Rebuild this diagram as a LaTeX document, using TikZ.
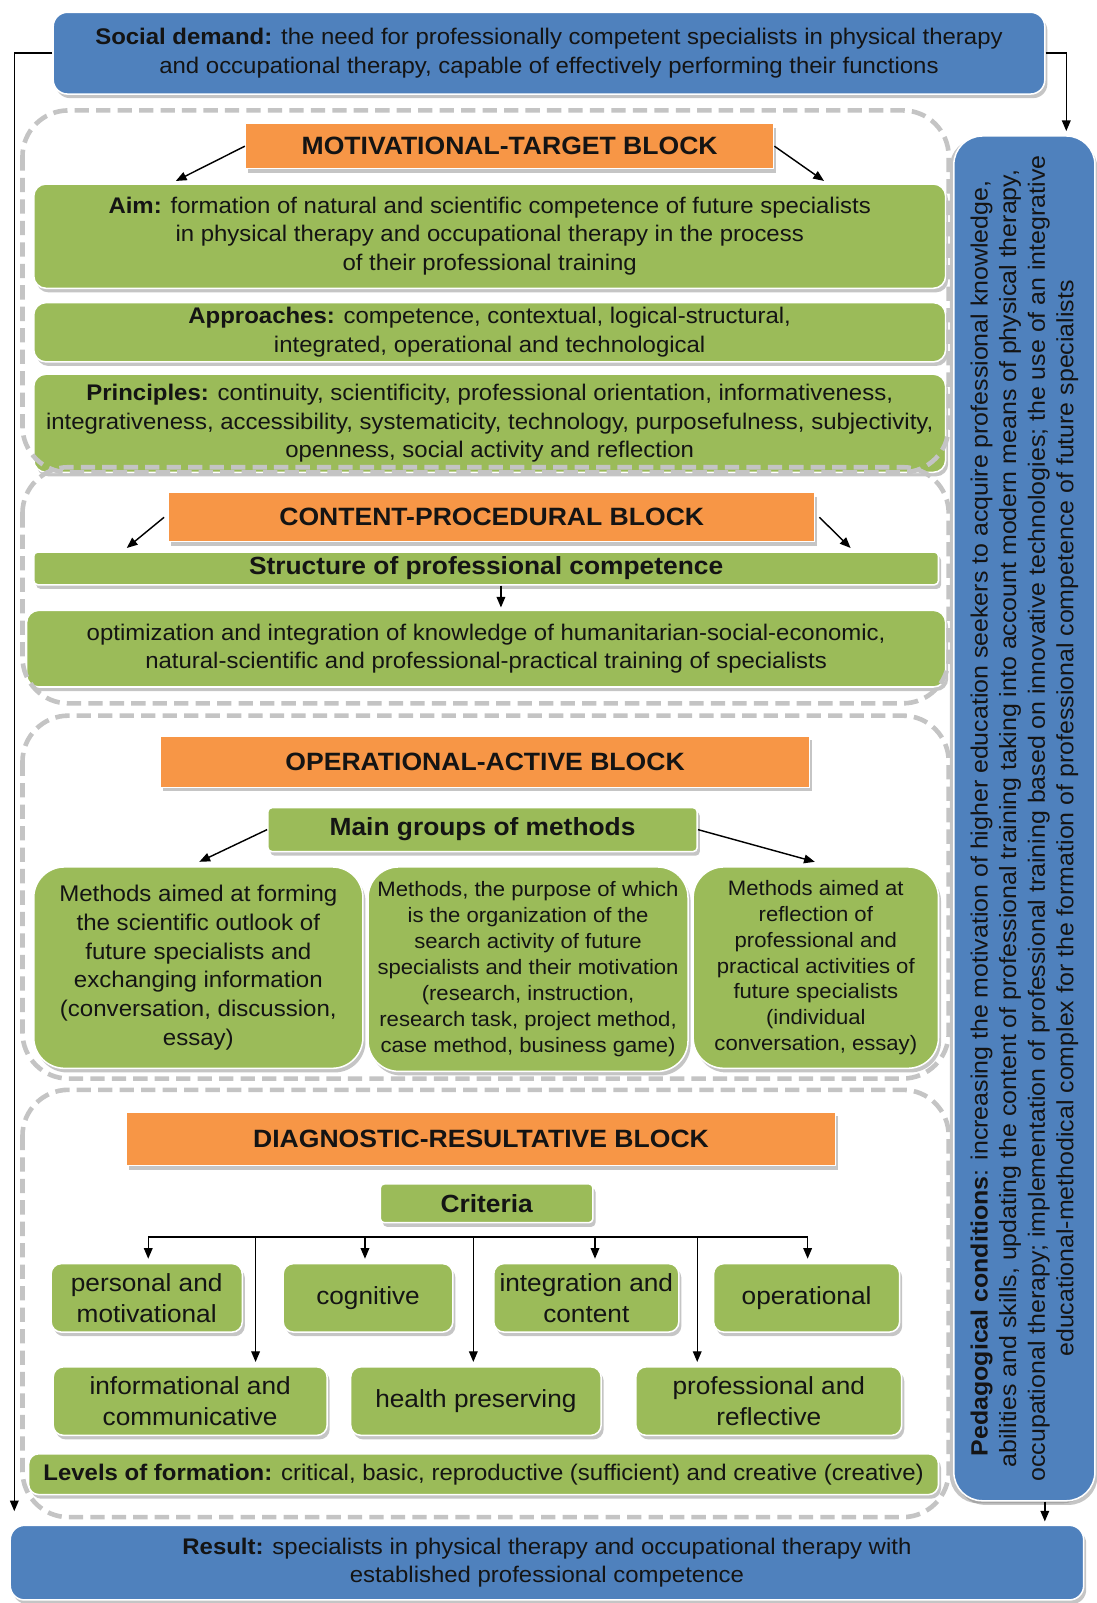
\documentclass[tikz,border=0pt]{standalone}
\usepackage{fontspec}
\setmainfont{Liberation Sans}[FakeStretch=1.06]
\usetikzlibrary{arrows.meta,shadows}
\definecolor{sblue}{HTML}{4F81BD}
\definecolor{sgreen}{HTML}{9BBB59}
\definecolor{sorange}{HTML}{F79646}
\definecolor{sgray}{HTML}{C4C4C4}
\newcommand\fsz[2]{\fontsize{#1}{#2}\selectfont}

\begin{document}
\begin{tikzpicture}[x=1pt,y=-1pt,
  txt/.style={align=center, inner sep=0pt, text=black!92},
  shade box/.style={drop shadow={shadow xshift=2.5pt,shadow yshift=-4pt,fill=black!50,opacity=0.45}},
  bluebox/.style={txt, fill=sblue, draw=white, line width=1.5pt, rounded corners=14pt, shade box, font=\fsz{22.1}{28}},
  greenbox/.style={txt, fill=sgreen, draw=white, line width=1.5pt, rounded corners=12pt, shade box, font=\fsz{22.1}{28}},
  methodbox/.style={greenbox, rounded corners=30pt, font=\fsz{20.4}{25.3}},
  critbox/.style={greenbox, rounded corners=10pt, minimum height=67pt, font=\fsz{24.2}{30}},
  header/.style={txt, fill=sorange, draw=white, line width=1pt, shade box, font=\bfseries\fsz{24.5}{28}},
  titlebox/.style={greenbox, rounded corners=4pt, font=\bfseries\fsz{24.3}{28}},
  blockframe/.style={draw=sgray, line width=4.5pt, dash pattern=on 14pt off 7pt, rounded corners=45pt},
  arr/.style={-{Triangle[length=10.5pt,width=8.5pt]}, line width=1.4pt, black},
  bus/.style={line width=1.4pt, black},
]
% canvas
\fill[white] (0,0) rectangle (1073,1568);
\useasboundingbox (0,0) rectangle (1073,1568);

% ---------- outer boxes ----------
\node[bluebox, minimum width=970pt, minimum height=80pt] (social) at (537,52)
  {\textbf{Social demand:} the need for professionally competent specialists in physical therapy\\
   and occupational therapy, capable of effectively performing their functions};

\node[bluebox, rotate=90, minimum width=1335pt, minimum height=138pt, rounded corners=28pt,
      font=\fsz{23}{28},
      drop shadow={shadow xshift=-4pt,shadow yshift=-2.5pt,fill=black!50,opacity=0.45}] (ped) at (1002,800.5)
  {\textbf{Pedagogical conditions}: increasing the motivation of higher education seekers to acquire professional knowledge,\\
   abilities and skills, updating the content of professional training taking into account modern means of physical therapy,\\
   occupational therapy; implementation of professional training based on innovative technologies; the use of an integrative\\
   educational-methodical complex for the formation of professional competence of future specialists};

\node[bluebox, minimum width=1050pt, minimum height=73pt] (res) at (535,1528.5)
  {\textbf{Result:} specialists in physical therapy and occupational therapy with\\
   established professional competence};

% ---------- motivational-target block ----------
\node[header, minimum width=517pt, minimum height=44pt] (mt) at (498.5,143) {MOTIVATIONAL-TARGET BLOCK};
\node[greenbox, minimum width=892pt, minimum height=102pt] (aim) at (479,231)
  {\textbf{Aim:} formation of natural and scientific competence of future specialists\\
   in physical therapy and occupational therapy in the process\\
   of their professional training};
\node[greenbox, minimum width=892pt, minimum height=58pt] (appr) at (479,325)
  {\textbf{Approaches:} competence, contextual, logical-structural,\\
   integrated, operational and technological};
\node[greenbox, minimum width=892pt, minimum height=96pt] (princ) at (479,414)
  {\textbf{Principles:} continuity, scientificity, professional orientation, informativeness,\\
   integrativeness, accessibility, systematicity, technology, purposefulness, subjectivity,\\
   openness, social activity and reflection};

% ---------- content-procedural block ----------
\node[header, minimum width=632pt, minimum height=48pt] (cp) at (481,506) {CONTENT-PROCEDURAL BLOCK};
\node[titlebox, minimum width=885pt, minimum height=32pt] (struct) at (475.5,556) {Structure of professional competence};
\node[greenbox, minimum width=899pt, minimum height=75pt] (opt) at (475.5,634.5)
  {optimization and integration of knowledge of humanitarian-social-economic,\\
   natural-scientific and professional-practical training of specialists};

% ---------- operational-active block ----------
\node[header, minimum width=635pt, minimum height=50pt] (oa) at (474.5,745) {OPERATIONAL-ACTIVE BLOCK};
\node[titlebox, minimum width=420pt, minimum height=43pt] (mg) at (472,811.5) {Main groups of methods};
\node[methodbox, minimum width=322pt, minimum height=197pt, font=\fsz{22.2}{28}] (m1) at (194,946.5)
  {Methods aimed at forming\\ the scientific outlook of\\ future specialists and\\ exchanging information\\
   (conversation, discussion,\\ essay)};
\node[methodbox, minimum width=313pt, minimum height=200pt] (m2) at (516.5,948)
  {Methods, the purpose of which\\ is the organization of the\\ search activity of future\\
   specialists and their motivation\\ (research, instruction,\\ research task, project method,\\
   case method, business game)};
\node[methodbox, minimum width=240pt, minimum height=197pt] (m3) at (798,946.5)
  {Methods aimed at\\ reflection of\\ professional and\\ practical activities of\\
   future specialists\\ (individual\\ conversation, essay)};

% ---------- diagnostic-resultative block ----------
\node[header, minimum width=693pt, minimum height=52pt] (dr) at (470.5,1114) {DIAGNOSTIC-RESULTATIVE BLOCK};
\node[titlebox, minimum width=208pt, minimum height=38pt] (crit) at (476,1177) {Criteria};

\node[critbox, minimum width=187pt] (pm)  at (143.5,1269.5) {personal and\\ motivational};
\node[critbox, minimum width=166pt] (cog) at (360,1269.5)   {cognitive};
\node[critbox, minimum width=181pt] (ic)  at (573.5,1269.5) {integration and\\ content};
\node[critbox, minimum width=182pt] (op)  at (789,1269.5)   {operational};

\node[critbox, minimum width=268pt] (inf) at (186,1370.5)   {informational and\\ communicative};
\node[critbox, minimum width=245pt] (hp)  at (465.5,1370.5) {health preserving};
\node[critbox, minimum width=260pt] (pr)  at (752,1370.5)   {professional and\\ reflective};

\node[greenbox, minimum width=890pt, minimum height=40pt, rounded corners=10pt] (lev) at (473,1442)
  {\textbf{Levels of formation:} critical, basic, reproductive (sufficient) and creative (creative)};

% ---------- dashed block frames ----------
\draw[blockframe] (22,108) rectangle (928,462);
\draw[blockframe] (22,457) rectangle (928,688);
\draw[blockframe] (22,700) rectangle (928,1055);
\draw[blockframe] (22,1066) rectangle (928,1484);

% ---------- connectors ----------
\coordinate (lx) at (14,0);
\coordinate (rx) at (1043,0);
\coordinate (bx) at (1022,0);
\draw[arr, shorten >=13pt] (social.west) -- (social.west -| lx) -- (lx |- res.north);
\draw[arr, shorten >=4pt] (social.east) -- (social.east -| rx) -- (rx |- ped.east);
\draw[arr, shorten >=3pt] (bx |- ped.west) -- (bx |- res.north);

\coordinate (mtL) at (172,177);
\coordinate (mtR) at (806,177);
\draw[arr] (mt.west) -- (mtL);
\draw[arr] (mt.east) -- (mtR);

\coordinate (cpL) at (124,536);
\coordinate (cpR) at (832,536);
\draw[arr] ([xshift=-4pt]cp.west) -- (cpL);
\draw[arr] ([xshift=4pt]cp.east) -- (cpR);

\draw[arr, shorten >=2pt] ([xshift=14.5pt]struct.south) -- ([xshift=14.5pt]opt.north);

\coordinate (mgL) at (195,843);
\coordinate (mgR) at (797,843);
\draw[arr] (mg.west) -- (mgL);
\draw[arr] (mg.east) -- (mgR);

% criteria distribution bus
\coordinate (c1) at (145,1210);
\coordinate (c2) at (250,1210);
\coordinate (c3) at (357,1210);
\coordinate (c4) at (463,1210);
\coordinate (c5) at (582,1210);
\coordinate (c6) at (682,1210);
\coordinate (c7) at (790,1210);
\draw[bus] (c1) -- (c7);
\draw[arr, shorten >=4pt] (c1) -- (c1 |- pm.north);
\draw[arr, shorten >=4pt] (c3) -- (c3 |- cog.north);
\draw[arr, shorten >=4pt] (c5) -- (c5 |- ic.north);
\draw[arr, shorten >=4pt] (c7) -- (c7 |- op.north);
\draw[arr, shorten >=4pt] (c2) -- (c2 |- inf.north);
\draw[arr, shorten >=4pt] (c4) -- (c4 |- hp.north);
\draw[arr, shorten >=4pt] (c6) -- (c6 |- pr.north);
\end{tikzpicture}
\end{document}
